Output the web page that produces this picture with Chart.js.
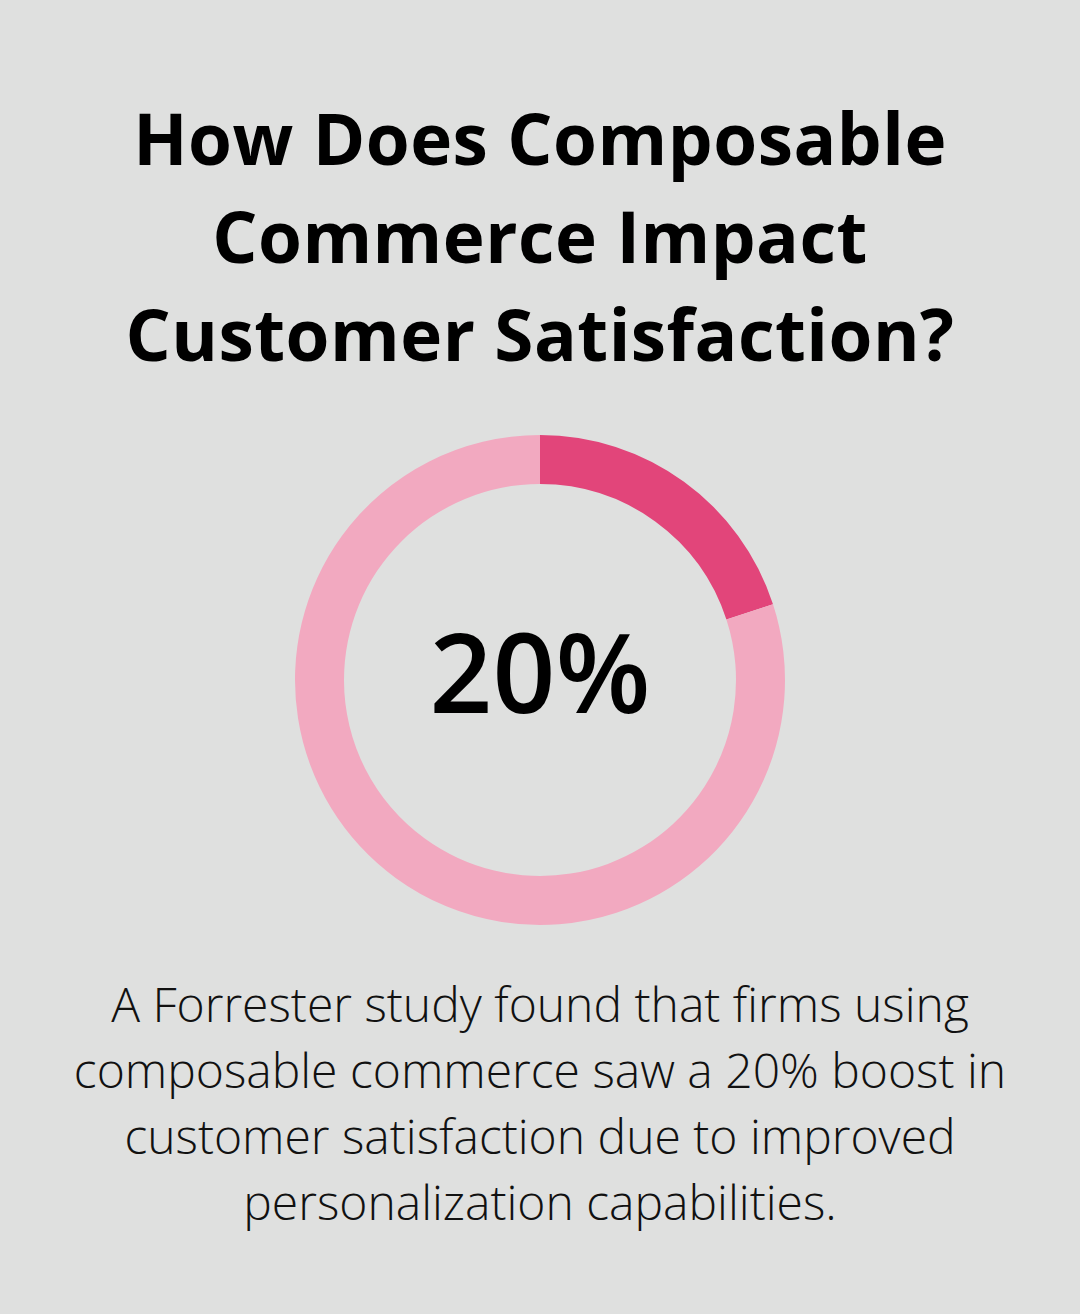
<!DOCTYPE html>
<html><head><meta charset="utf-8">
<script src="https://cdn.jsdelivr.net/npm/chart.js@4"></script>
<style>
html,body{margin:0;padding:0;background:#dfe0df;width:1080px;height:1314px;overflow:hidden;font-family:"Open Sans",sans-serif;}
#title{position:absolute;top:89px;left:0;width:1080px;text-align:center;font-weight:700;font-size:71px;line-height:98px;color:#000;letter-spacing:0.5px}
#wrap{position:absolute;left:290px;top:430px;width:500px;height:500px}
#center{position:absolute;left:290px;top:420px;width:500px;height:500px;display:flex;align-items:center;justify-content:center;font-size:110px;font-weight:600;color:#000}
#body{position:absolute;top:971px;left:0;width:1080px;text-align:center;font-weight:300;font-size:48px;line-height:66px;color:#111}
</style></head><body>
<div id="title">How Does Composable<br>Commerce Impact<br>Customer Satisfaction?</div>
<div id="wrap"><canvas id="c" width="500" height="500"></canvas></div>
<div id="center">20%</div>
<div id="body">A Forrester study found that firms using<br>composable commerce saw a 20% boost in<br>customer satisfaction due to improved<br>personalization capabilities.</div>
<script>
const labels = ["Boost", "Remaining"];
const values = [20, 80];
const colors = ["#e2457a", "#f2a9c0"];
new Chart(document.getElementById('c'), {
  type: 'doughnut',
  data: { labels, datasets: [{ data: values, backgroundColor: colors, borderWidth: 0 }] },
  options: { responsive: false, animation: false, cutout: '80%', radius: 245,
    plugins: { legend: { display: false }, tooltip: { enabled: false } } }
});
</script>
</body></html>
